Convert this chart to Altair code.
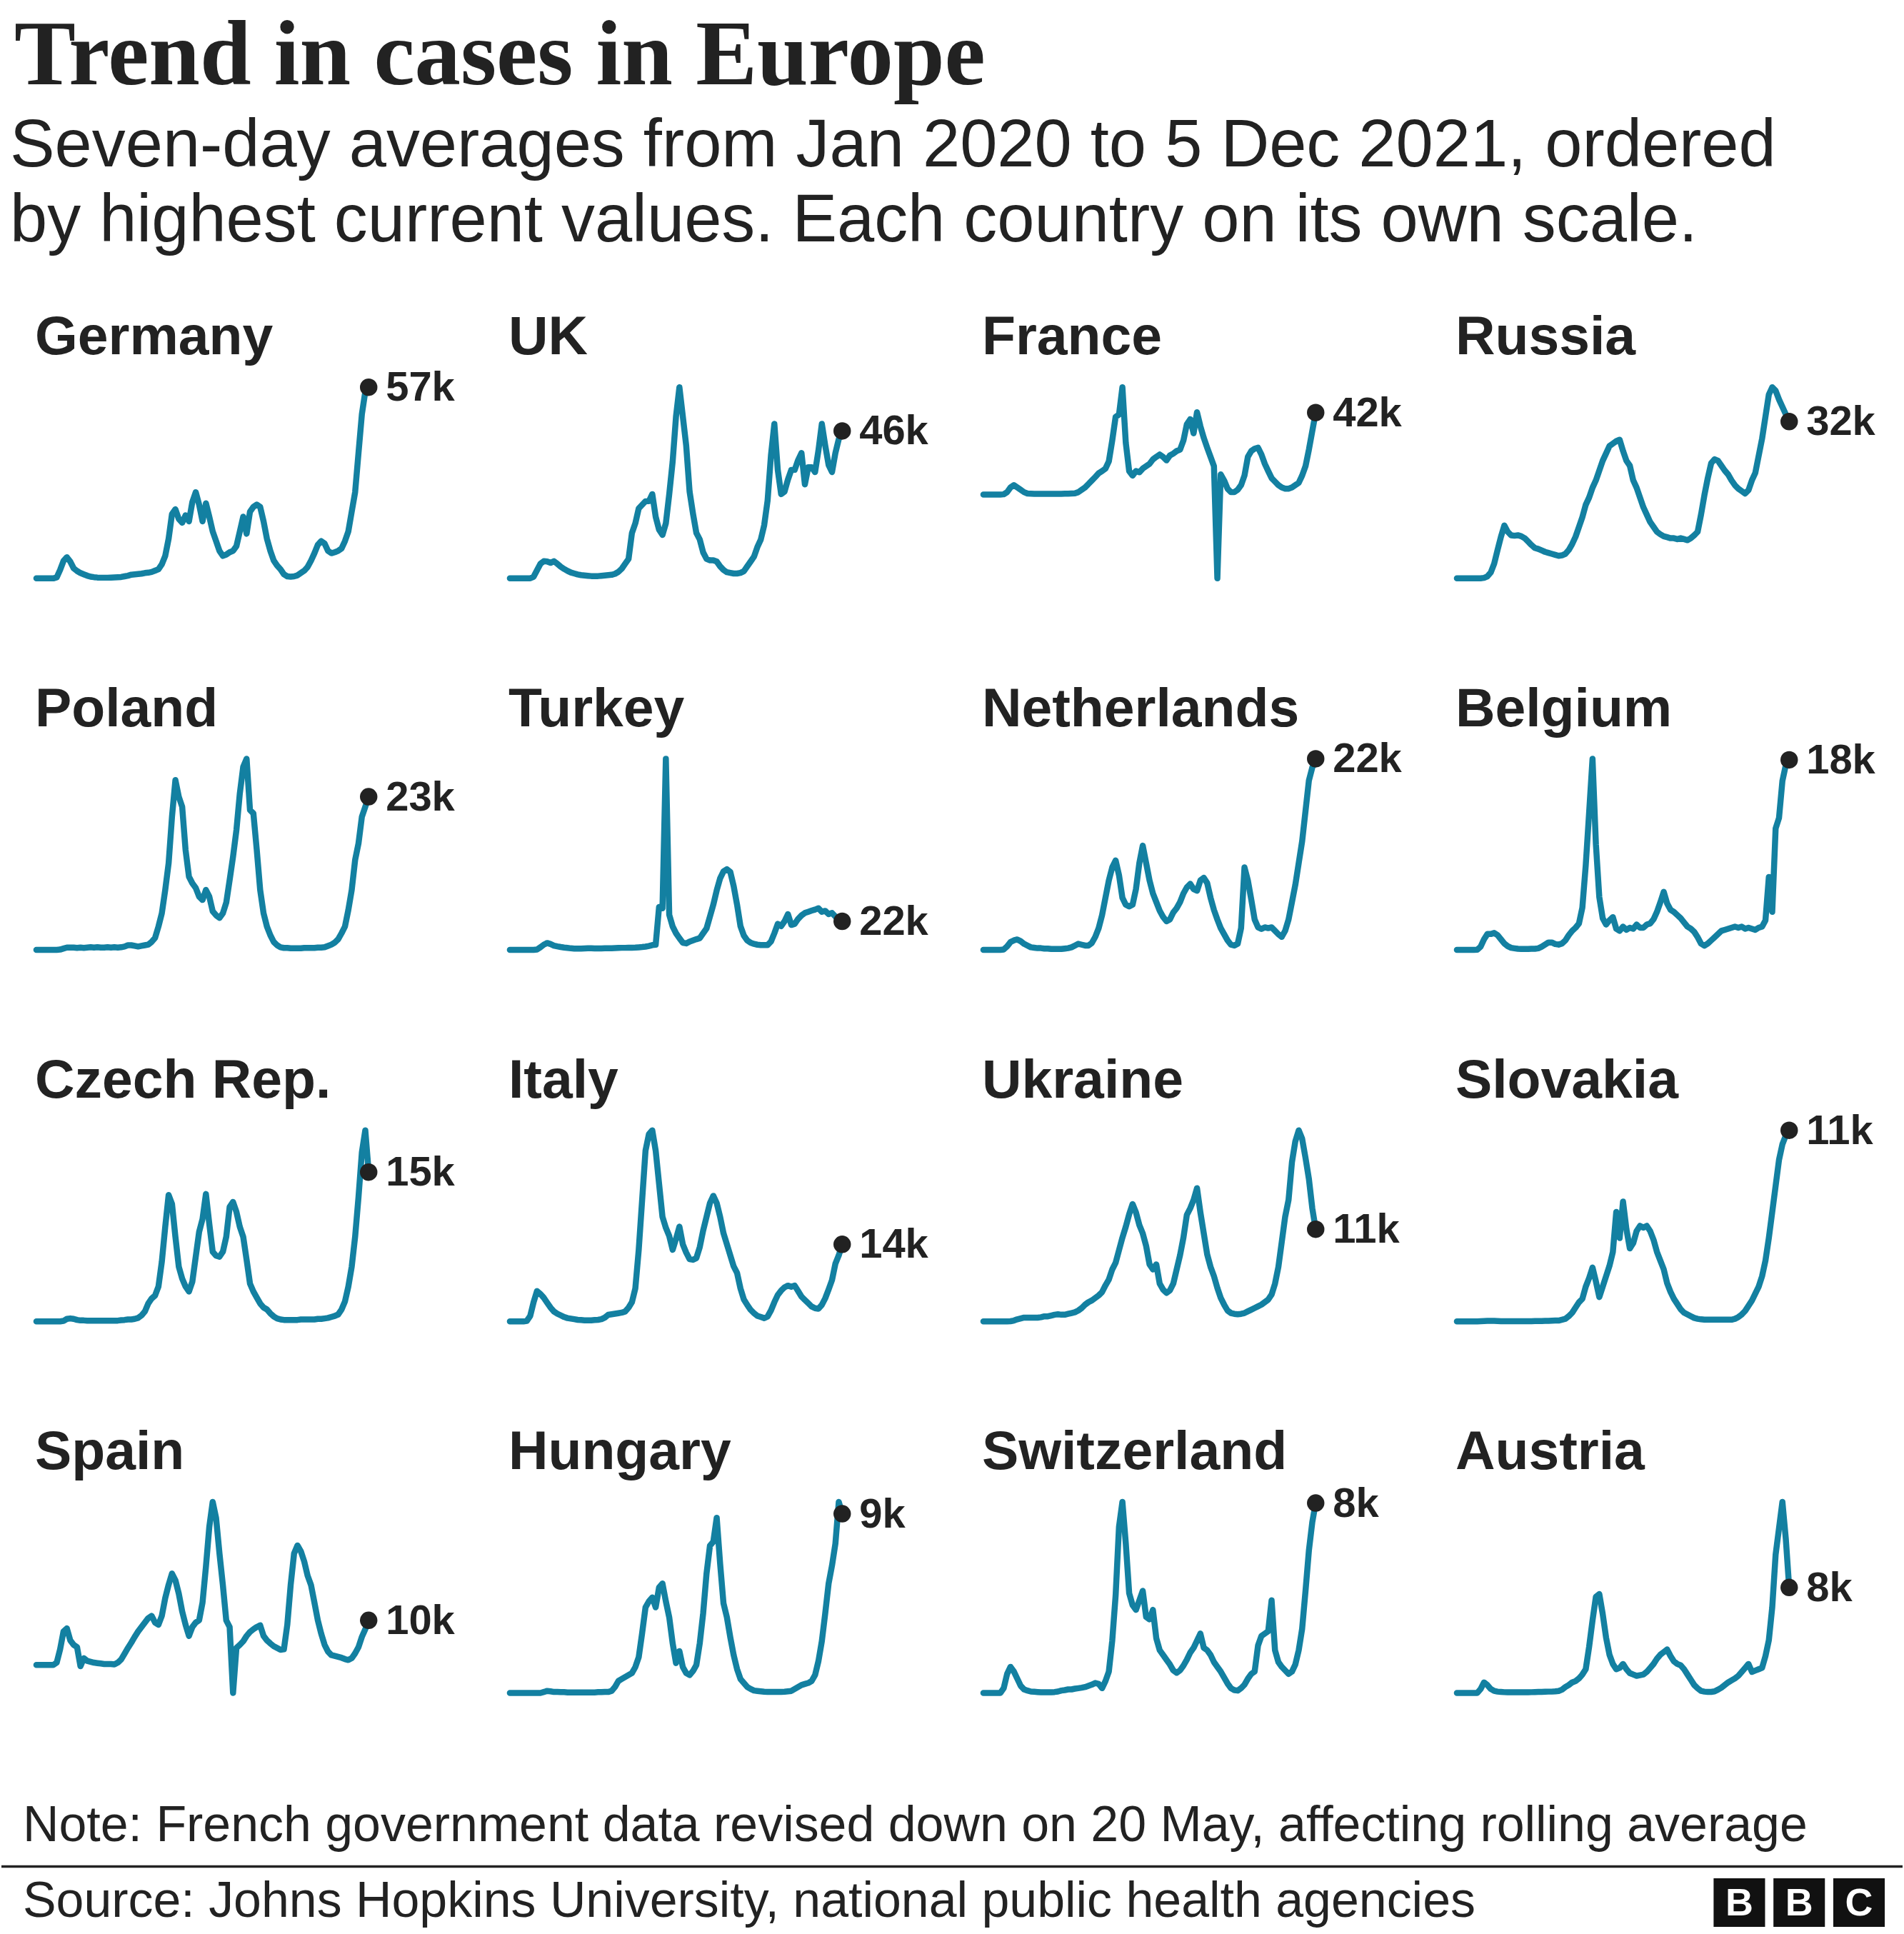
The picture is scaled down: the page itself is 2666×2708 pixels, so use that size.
import altair as alt
import pandas as pd

# ---------------- data (thousands of cases, 7-day average, weekly samples) -------------
dates = pd.date_range("2020-01-19", periods=99, freq="7D")  # ends 5 Dec 2021

countries = ["Germany", "UK", "France", "Russia",
             "Poland", "Turkey", "Netherlands", "Belgium",
             "Czech Rep.", "Italy", "Ukraine", "Slovakia",
             "Spain", "Hungary", "Switzerland", "Austria"]

end_labels = ["57k", "46k", "42k", "32k",
              "23k", "22k", "22k", "18k",
              "15k", "14k", "11k", "11k",
              "10k", "9k", "8k", "8k"]

germany = [0, 0, 0, 0, 0, 0, 0.3, 2.5, 5.2, 6.3,
           5, 3, 2.2, 1.6, 1.2, 0.8, 0.5, 0.35, 0.25, 0.2,
           0.2, 0.2, 0.25, 0.3, 0.35, 0.4, 0.6, 0.8, 1.1, 1.2,
           1.3, 1.4, 1.6, 1.7, 1.9, 2.3, 2.7, 4.2, 6.7, 11.8,
           19.2, 20.6, 17.7, 16.6, 18.8, 17, 22.8, 25.7, 22, 17,
           22.4, 18.4, 14, 11.1, 8.2, 6.7, 7.1, 7.8, 8.2, 9.6,
           14, 18.4, 13.3, 19.9, 21.3, 22, 21.3, 17, 11.8, 8.2,
           5.3, 3.8, 2.7, 1.2, 0.6, 0.5, 0.6, 0.9, 1.6, 2.3,
           3.4, 5.3, 7.5, 10, 11.1, 10.4, 8.2, 7.5, 7.8, 8.2,
           8.9, 11.1, 14, 19.9, 25.7, 37.4, 49, 55.7, 57]

uk = [0, 0, 0, 0, 0, 0, 0.01, 0.5, 2.5, 4.5,
      5.3, 5.2, 4.8, 5.3, 4.5, 3.6, 2.9, 2.3, 1.8, 1.5,
      1.2, 1, 0.9, 0.8, 0.7, 0.7, 0.7, 0.8, 0.9, 1,
      1.1, 1.4, 2, 3, 4.5, 6, 14, 17, 21.6, 22.7,
      23.8, 23.8, 26, 19, 15, 13.4, 17, 26, 36, 50,
      59, 50, 41, 26.8, 20, 14, 12, 8, 6, 5.6,
      5.6, 5.2, 3.7, 2.6, 1.9, 1.7, 1.5, 1.5, 1.7, 2.2,
      3.7, 5.2, 6.7, 9.7, 12, 16.4, 24, 38, 47.7, 33.5,
      26, 26.8, 30.5, 33.5, 33.5, 36.5, 38.7, 29, 34.3, 34.3,
      32.8, 39.5, 47.7, 41, 35, 32.8, 38.7, 43, 45.5]

france = [0, 0, 0, 0, 0, 0, 0.1, 1.2, 3.6, 4.8,
          3.6, 2.4, 1.2, 0.5, 0.4, 0.3, 0.3, 0.3, 0.3, 0.3,
          0.3, 0.3, 0.3, 0.3, 0.4, 0.4, 0.5, 0.6, 1.2, 2.4,
          3.6, 5.4, 7.2, 9, 10.9, 12, 13.3, 17, 27.7, 39.8,
          41, 55, 26.5, 12, 9.7, 12, 11.4, 13.3, 14.5, 15.7,
          18, 19.3, 20.5, 19.3, 17.5, 20, 21, 22.3, 23, 27.7,
          36, 38.6, 31.4, 42.2, 35, 29, 24, 19.3, 14.5, -43,
          10.3, 7.2, 3, 1.2, 1.2, 2.4, 4.8, 9.7, 19.3, 22.3,
          23.5, 24, 20.5, 15.7, 12, 8.4, 6.6, 4.8, 3.6, 3,
          3, 3.6, 4.8, 6, 9.7, 14.5, 23, 32.6, 42]

russia = [0, 0, 0, 0, 0, 0, 0, 0.02, 0.1, 0.4,
          1.2, 3, 5.8, 8.5, 10.8, 9.5, 8.8, 8.7, 8.8, 8.6,
          8.2, 7.5, 6.8, 6.2, 6, 5.7, 5.4, 5.2, 5, 4.8,
          4.6, 4.7, 5, 5.8, 7, 8.5, 10.5, 12.5, 15, 16.5,
          18.5, 20, 22, 24, 25.5, 27, 27.5, 28, 28.3, 26,
          24, 23, 20, 18.5, 16.5, 14.5, 13, 11.5, 10.5, 9.5,
          9, 8.6, 8.4, 8.2, 8.2, 8, 8.2, 8, 7.8, 8.2,
          8.8, 9.5, 13, 17, 20.5, 23.5, 24.3, 24, 23, 22,
          21.2, 20, 19, 18.3, 17.8, 17.3, 18, 20, 21.5, 25,
          28.5, 33, 37.5, 39, 38.3, 36.5, 35, 33.5, 32]

poland = [0, 0, 0, 0, 0, 0, 0, 0.05, 0.2, 0.35,
          0.35, 0.35, 0.3, 0.35, 0.3, 0.35, 0.4, 0.35, 0.4, 0.35,
          0.35, 0.4, 0.35, 0.4, 0.35, 0.4, 0.5, 0.7, 0.7, 0.6,
          0.5, 0.6, 0.7, 0.8, 1.2, 1.8, 3.5, 5.5, 9, 13,
          20, 25.5, 23, 21.5, 15, 11, 10, 9.3, 8, 7.5,
          9, 8, 5.8, 5.2, 4.8, 5.5, 7.1, 10.5, 14, 18,
          23.5, 27.5, 28.7, 21, 20.5, 15, 9, 5.5, 3.5, 2.2,
          1.2, 0.7, 0.4, 0.3, 0.3, 0.25, 0.25, 0.25, 0.25, 0.3,
          0.3, 0.3, 0.3, 0.35, 0.35, 0.4, 0.6, 0.8, 1.1, 1.6,
          2.5, 3.5, 6, 9, 13.5, 16, 20, 21.5, 23]

turkey = [0, 0, 0, 0, 0, 0, 0, 0, 0.3, 2,
          4, 5.3, 4.5, 3.3, 2.7, 2.2, 1.8, 1.5, 1.2, 1,
          1, 1, 1.1, 1.2, 1.2, 1.1, 1.1, 1.1, 1.2, 1.2,
          1.3, 1.4, 1.5, 1.6, 1.6, 1.7, 1.7, 1.8, 2, 2.2,
          2.5, 3, 3.7, 4, 33, 32, 147, 27, 18, 12.8,
          9, 5.5, 5, 6.4, 7.3, 8.2, 9, 12.8, 16.5, 25.6,
          34.8, 45.8, 55, 60.4, 62, 60, 49, 34.8, 18.3, 11,
          7.3, 5.5, 4.6, 4, 3.7, 3.7, 3.7, 6.4, 12.8, 20,
          18.3, 22, 27.5, 19.2, 20, 23.8, 26.5, 28.4, 29.3, 30.2,
          31, 32, 29.3, 30, 27.5, 28.4, 25.6, 23.8, 22]

netherlands = [0, 0, 0, 0, 0, 0, 0.05, 0.4, 0.9, 1.1,
               1.2, 1, 0.7, 0.5, 0.3, 0.25, 0.2, 0.2, 0.15, 0.15,
               0.1, 0.1, 0.1, 0.1, 0.15, 0.2, 0.3, 0.5, 0.7, 0.6,
               0.5, 0.5, 0.8, 1.5, 2.5, 4, 6, 8, 9.5, 10.3,
               8.6, 6, 5.2, 5, 5.2, 7, 10, 12, 10, 8,
               6.5, 5.5, 4.5, 3.8, 3.3, 3.5, 4.3, 4.8, 5.5, 6.5,
               7.2, 7.6, 7, 6.8, 8, 8.3, 7.7, 6, 4.6, 3.5,
               2.5, 1.8, 1.1, 0.6, 0.5, 0.7, 2.5, 9.5, 8, 5.8,
               3.5, 2.6, 2.4, 2.6, 2.5, 2.6, 2.2, 1.8, 1.5, 2.2,
               3.5, 5.5, 7.5, 10, 12.5, 16, 19.5, 21, 22]

belgium = [0, 0, 0, 0, 0, 0, 0.02, 0.3, 1, 1.5,
           1.5, 1.6, 1.4, 1, 0.6, 0.35, 0.2, 0.15, 0.1, 0.08,
           0.08, 0.08, 0.1, 0.1, 0.15, 0.3, 0.5, 0.7, 0.7, 0.55,
           0.5, 0.6, 0.9, 1.4, 1.8, 2.1, 2.5, 4, 8, 13,
           18.1, 10, 5, 3, 2.4, 2.8, 3.1, 2, 1.8, 2.2,
           1.9, 2.1, 2, 2.4, 2.1, 2.1, 2.4, 2.5, 2.9, 3.6,
           4.5, 5.5, 4.4, 3.8, 3.6, 3.3, 3, 2.6, 2.2, 2,
           1.7, 1.2, 0.6, 0.4, 0.6, 0.9, 1.2, 1.5, 1.8, 1.9,
           2, 2.1, 2.2, 2.1, 2.2, 2, 2.1, 2, 1.9, 2.1,
           2.2, 2.8, 6.9, 3.6, 11.5, 12.5, 16, 17.5, 18]

czech = [0, 0, 0, 0, 0, 0, 0, 0, 0.05, 0.25,
         0.3, 0.25, 0.15, 0.1, 0.1, 0.08, 0.08, 0.08, 0.08, 0.08,
         0.08, 0.08, 0.08, 0.08, 0.08, 0.12, 0.15, 0.2, 0.2, 0.25,
         0.35, 0.6, 1, 1.8, 2.3, 2.6, 3.5, 6, 9.5, 12.7,
         11.8, 8.5, 5.5, 4.3, 3.5, 3, 4, 6.5, 9, 10.3,
         12.8, 9.8, 7, 6.6, 6.5, 7, 8.5, 11.5, 12, 11,
         9.5, 8.5, 6.2, 3.8, 3, 2.4, 1.8, 1.4, 1.2, 0.8,
         0.5, 0.3, 0.2, 0.15, 0.15, 0.15, 0.15, 0.15, 0.2, 0.2,
         0.2, 0.2, 0.2, 0.25, 0.25, 0.3, 0.35, 0.45, 0.55, 0.7,
         1.2, 2, 3.5, 5.5, 8.5, 12.5, 17, 19.2, 15]

italy = [0, 0, 0, 0, 0, 0.1, 1, 3.5, 5.5, 5,
         4.3, 3.4, 2.5, 1.8, 1.4, 1.1, 0.8, 0.6, 0.5, 0.4,
         0.3, 0.25, 0.2, 0.2, 0.2, 0.25, 0.3, 0.4, 0.7, 1.2,
         1.3, 1.4, 1.5, 1.6, 1.8, 2.5, 3.5, 6, 13, 22,
         31, 34, 34.7, 31, 25, 19, 17, 15.5, 13, 15,
         17.2, 14, 12.5, 11.3, 11.2, 11.5, 13.5, 16.5, 19, 21.5,
         22.8, 21.5, 19, 16, 14, 12, 10, 8.8, 6, 4,
         3, 2.1, 1.5, 1, 0.8, 0.6, 0.9, 2, 3.5, 4.8,
         5.6, 6.2, 6.5, 6.3, 6.5, 5.5, 4.5, 3.9, 3.3, 2.7,
         2.4, 2.3, 3, 4.2, 5.8, 7.5, 10.5, 12, 14]

ukraine = [0, 0, 0, 0, 0, 0, 0, 0, 0.02, 0.1,
           0.25, 0.35, 0.45, 0.45, 0.45, 0.45, 0.45, 0.5, 0.6, 0.6,
           0.7, 0.8, 0.85, 0.8, 0.8, 0.9, 1, 1.1, 1.3, 1.6,
           2, 2.3, 2.5, 2.8, 3.1, 3.5, 4.3, 5, 6.2, 7,
           8.5, 10, 11.3, 12.8, 14, 13, 11.5, 10.5, 9, 6.8,
           6.2, 6.8, 4.5, 3.8, 3.4, 3.7, 4.5, 6.2, 7.9, 10,
           12.7, 13.5, 14.5, 15.9, 13, 10.5, 8, 6.5, 5.4, 4,
           2.8, 2, 1.3, 1, 0.9, 0.85, 0.9, 1, 1.2, 1.4,
           1.6, 1.8, 2, 2.3, 2.6, 3.2, 4.5, 6.5, 9.5, 12.5,
           14.5, 19, 21.5, 22.8, 21.8, 19.5, 17, 13.5, 11]

slovakia = [0, 0, 0, 0, 0, 0, 0, 0.01, 0.02, 0.03,
            0.03, 0.03, 0.02, 0.01, 0.01, 0.01, 0.01, 0.01, 0.01, 0.01,
            0.01, 0.01, 0.01, 0.02, 0.02, 0.02, 0.03, 0.03, 0.04, 0.05,
            0.05, 0.1, 0.15, 0.3, 0.5, 0.8, 1.1, 1.3, 2, 2.5,
            3.1, 2.3, 1.4, 2, 2.6, 3.2, 4, 6.3, 4.8, 6.9,
            5.3, 4.2, 4.5, 5.2, 5.5, 5.4, 5.5, 5.2, 4.7, 4,
            3.5, 3, 2.2, 1.7, 1.3, 1, 0.7, 0.5, 0.4, 0.3,
            0.2, 0.15, 0.12, 0.1, 0.1, 0.1, 0.1, 0.1, 0.1, 0.1,
            0.1, 0.1, 0.15, 0.25, 0.4, 0.6, 0.9, 1.2, 1.6, 2,
            2.6, 3.5, 4.8, 6.3, 7.8, 9.3, 10.2, 10.7, 11]

spain = [0, 0, 0, 0, 0, 0, 0.5, 3.5, 7.5, 8.2,
         5.5, 4.5, 4, -0.3, 1.5, 0.9, 0.7, 0.5, 0.4, 0.3,
         0.2, 0.2, 0.2, 0.1, 0.5, 1.2, 2.5, 3.8, 5, 6.3,
         7.5, 8.5, 9.5, 10.5, 11, 9.5, 9, 11, 15, 18,
         20.5, 19, 16, 12, 9, 6.5, 8.5, 9.5, 10, 14,
         22, 31, 36.6, 33, 25, 17.9, 10, 8.5, -6.3, 3.8,
         4.5, 5.3, 6.5, 7.4, 8, 8.5, 8.9, 6.5, 5.5, 4.8,
         4.2, 3.8, 3.4, 3.5, 9, 18, 25, 26.8, 25.5, 23.2,
         20, 17.9, 14, 10, 7, 4.5, 3, 2.2, 2, 1.8,
         1.6, 1.3, 1.1, 1.5, 2.6, 4, 6.3, 8, 10]

hungary = [0, 0, 0, 0, 0, 0, 0, 0, 0, 0,
           0.05, 0.1, 0.08, 0.05, 0.05, 0.04, 0.04, 0.03, 0.03, 0.03,
           0.03, 0.03, 0.03, 0.03, 0.03, 0.03, 0.04, 0.04, 0.05, 0.05,
           0.1, 0.3, 0.6, 0.7, 0.8, 0.9, 1, 1.3, 1.8, 3,
           4.3, 4.6, 4.8, 4.3, 5.3, 5.5, 4.6, 3.8, 2.5, 1.5,
           2.1, 1.3, 1, 0.9, 1.1, 1.4, 2.5, 4, 6, 7.4,
           7.6, 8.8, 6.5, 4.5, 3.8, 2.8, 1.9, 1.2, 0.7, 0.5,
           0.3, 0.2, 0.12, 0.1, 0.08, 0.06, 0.05, 0.05, 0.05, 0.05,
           0.05, 0.06, 0.08, 0.1, 0.2, 0.3, 0.4, 0.45, 0.5, 0.6,
           0.9, 1.6, 2.6, 4, 5.5, 6.4, 7.5, 9.6, 9]

switzerland = [0, 0, 0, 0, 0, 0, 0.2, 0.8, 1.1, 0.9,
               0.6, 0.3, 0.15, 0.1, 0.06, 0.05, 0.04, 0.03, 0.03, 0.03,
               0.03, 0.04, 0.06, 0.1, 0.12, 0.15, 0.15, 0.18, 0.2, 0.22,
               0.25, 0.3, 0.35, 0.42, 0.38, 0.2, 0.5, 0.9, 2.2, 4.1,
               7, 8.05, 6.3, 4.2, 3.7, 3.5, 3.9, 4.3, 3.2, 3.1,
               3.5, 2.3, 1.8, 1.6, 1.4, 1.2, 0.95, 0.85, 0.95, 1.15,
               1.4, 1.7, 1.9, 2.2, 2.5, 1.9, 1.8, 1.6, 1.3, 1.1,
               0.9, 0.65, 0.4, 0.2, 0.12, 0.1, 0.2, 0.35, 0.6, 0.8,
               0.9, 2, 2.4, 2.5, 2.6, 3.9, 1.8, 1.3, 1.1, 0.95,
               0.8, 0.9, 1.2, 1.8, 2.7, 4.3, 6, 7.2, 8]

austria = [0, 0, 0, 0, 0, 0, 0, 0.3, 0.8, 0.6,
           0.3, 0.15, 0.1, 0.08, 0.06, 0.05, 0.05, 0.05, 0.05, 0.05,
           0.05, 0.05, 0.06, 0.07, 0.08, 0.08, 0.09, 0.1, 0.1, 0.12,
           0.15, 0.25, 0.45, 0.6, 0.8, 0.9, 1.1, 1.4, 1.8, 3.5,
           5.5, 7.3, 7.5, 6, 4.2, 2.9, 2.2, 1.8, 1.9, 2.2,
           1.8, 1.5, 1.4, 1.3, 1.35, 1.4, 1.6, 1.9, 2.2, 2.6,
           2.9, 3.1, 3.3, 2.8, 2.4, 2.2, 2.1, 1.8, 1.4, 1,
           0.6, 0.35, 0.15, 0.1, 0.08, 0.08, 0.12, 0.25, 0.4, 0.6,
           0.8, 0.95, 1.1, 1.3, 1.6, 1.9, 2.2, 1.6, 1.7, 1.8,
           1.9, 2.8, 4, 6.5, 10.5, 12.5, 14.5, 11.7, 8]

series = [germany, uk, france, russia, poland, turkey, netherlands, belgium,
          czech, italy, ukraine, slovakia, spain, hungary, switzerland, austria]

for name, s in zip(countries, series):
    if len(s) != len(dates):
        raise ValueError(f"{name}: {len(s)} values, expected {len(dates)}")

TITLE = "Trend in cases in Europe"
SUB1 = "Seven-day averages from Jan 2020 to 5 Dec 2021, ordered"
SUB2 = "by highest current values. Each country on its own scale."
NOTE = "Note: French government data revised down on 20 May, affecting rolling average"
SOURCE = "Source: Johns Hopkins University, national public health agencies"
LOGO = ["B", "B", "C"]

# ---------------- style ----------------
SANS = "Liberation Sans"
SERIF = "Liberation Serif"
INK = "#222222"
TEAL = "#1380A1"
PANEL_W = 663.5
PANEL_H = 520.5


def text_layer(txt, x, y, size, weight="normal", font=SANS, color=INK):
    return alt.Chart(pd.DataFrame({"t": [txt]})).mark_text(
        align="left", baseline="alphabetic", font=font, fontSize=size,
        fontWeight=weight, color=color
    ).encode(x=alt.value(x), y=alt.value(y), text="t:N")


def panel(name, vals, label):
    df = pd.DataFrame({"date": dates, "cases": vals})
    last = pd.DataFrame({"date": [dates[-1]], "cases": [vals[-1]], "label": [label]})
    xenc = alt.X("date:T", axis=None, scale=alt.Scale(range=[49, 515]))
    yenc = alt.Y("cases:Q", axis=None,
                 scale=alt.Scale(zero=False, nice=False, range=[389, 121]))
    line = alt.Chart(df).mark_line(
        color=TEAL, strokeWidth=8.5, strokeJoin="round", strokeCap="round"
    ).encode(x=xenc, y=yenc)
    dot = alt.Chart(last).mark_circle(size=600, color=INK, opacity=1).encode(x=xenc, y=yenc)
    lab = alt.Chart(last).mark_text(
        align="left", baseline="middle", dx=24, dy=2, font=SANS, fontSize=58,
        fontWeight="bold", color=INK
    ).encode(x=xenc, y=yenc, text="label:N")
    head = text_layer(name, 47, 75, 77, weight="bold")
    return alt.layer(line, dot, lab, head).properties(width=PANEL_W, height=PANEL_H)


rows = []
for r in range(4):
    cells = [panel(countries[i], series[i], end_labels[i]) for i in range(r * 4, r * 4 + 4)]
    rows.append(alt.hconcat(*cells, spacing=0))
grid = alt.vconcat(*rows, spacing=0)

header = alt.layer(
    text_layer(TITLE, 18, 116, 129, weight="bold", font=SERIF),
    text_layer(SUB1, 12, 231, 94),
    text_layer(SUB2, 12, 336, 94),
).properties(width=2666, height=420)

logo_df = pd.DataFrame({"slot": ["1", "2", "3"], "letter": LOGO})
logo_scale = alt.Scale(range=[2401, 2641], paddingInner=0.14, paddingOuter=0)
logo_rect = alt.Chart(logo_df).mark_rect(color="#111111").encode(
    x=alt.X("slot:N", axis=None, scale=logo_scale),
    y=alt.value(128), y2=alt.value(196))
logo_txt = alt.Chart(logo_df).mark_text(
    color="white", font=SANS, fontSize=54, fontWeight="bold",
    align="center", baseline="middle", dy=2
).encode(x=alt.X("slot:N", axis=None, scale=logo_scale, bandPosition=0.5),
         y=alt.value(162), text="letter:N")
rule = alt.Chart(pd.DataFrame({"a": [0]})).mark_rule(color=INK, strokeWidth=3.5).encode(
    x=alt.value(0), x2=alt.value(2666), y=alt.value(111.5))

footer = alt.layer(
    text_layer(NOTE, 30, 76, 70),
    rule,
    text_layer(SOURCE, 30, 182, 70),
    logo_rect, logo_txt,
).properties(width=2666, height=206)

chart = alt.vconcat(header, grid, footer, spacing=0).properties(
    padding=0, background="white"
).configure_view(strokeWidth=0)

chart.save("out.html", embed_options={"renderer": "svg", "actions": False})
